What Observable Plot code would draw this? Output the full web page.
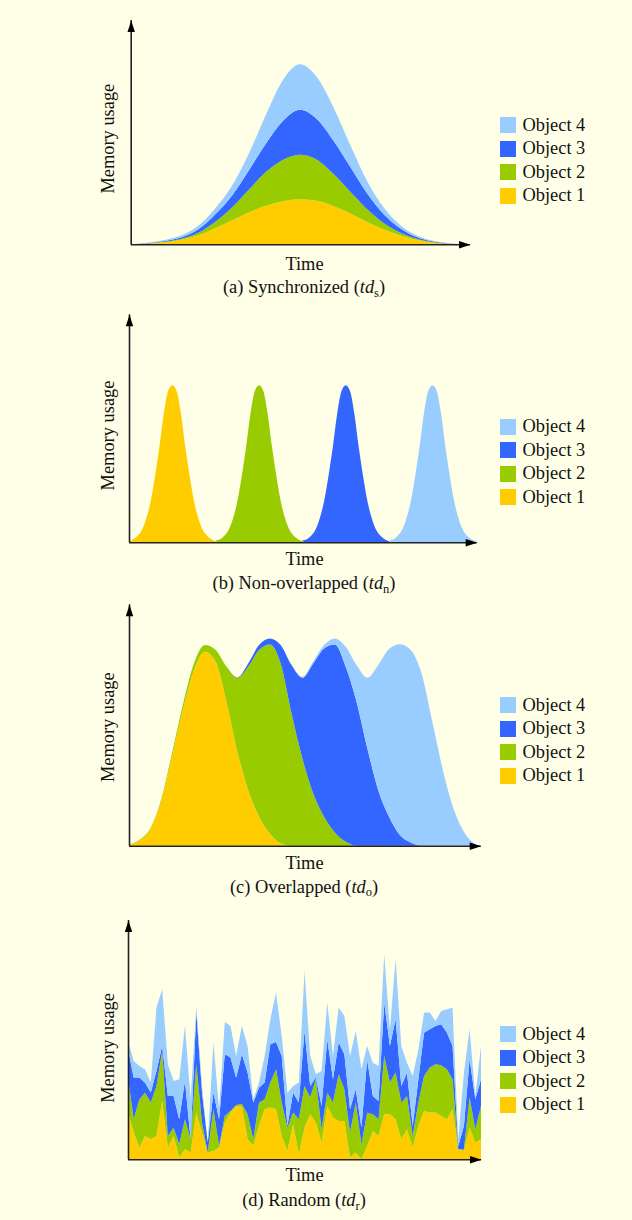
<!DOCTYPE html>
<html>
<head>
<meta charset="utf-8">
<script src="https://cdn.jsdelivr.net/npm/d3@7"></script>
<script src="https://cdn.jsdelivr.net/npm/@observablehq/plot@0.6"></script>
<style>
html, body { margin: 0; padding: 0; background: #FFFEE6; }
#page { position: relative; width: 632px; height: 1220px; background: #FFFEE6; overflow: hidden; }
.panel { position: absolute; left: 0; }
.lg { position: absolute; left: 500px; width: 130px; }
.lg svg { margin-right: 6.5px !important; }
</style>
</head>
<body>
<div id="page"></div>
<script>
const serif = "'Liberation Serif', 'Times New Roman', serif";
const ink = "#111";

const objects = ["Object 1", "Object 2", "Object 3", "Object 4"];
const objectColors = ["#ffcc00", "#99cc00", "#3366ff", "#99ccff"];
const legendObjects = ["Object 4", "Object 3", "Object 2", "Object 1"];
const legendColors = ["#99ccff", "#3366ff", "#99cc00", "#ffcc00"];

const captions = ["(a) Synchronized", "(b) Non-overlapped", "(c) Overlapped", "(d) Random"];
const captionSubs = ["s", "n", "o", "r"];
const xLabel = "Time";
const yLabel = "Memory usage";

// (a) Synchronized: time steps 0..20
const timeA = d3.range(0, 21);
const syncObj1 = [0, 0.7, 2, 4.5, 9, 16, 24, 32, 38.5, 43, 45, 43.5, 38, 30.5, 22, 14.5, 8.5, 4, 1.5, 0.3, 0];
const syncObj2 = [0, 0.2, 0.5, 1, 2.5, 6.5, 13, 23, 34, 41.5, 44.5, 41, 32, 21.5, 12.5, 6, 2.5, 1, 0.3, 0.1, 0];
const syncObj3 = [0, 0.3, 0.7, 1.5, 3.5, 7.5, 12, 19.5, 28.5, 39, 45, 40.5, 33, 24.5, 15.5, 8.5, 4, 1.5, 0.7, 0.2, 0];
const syncObj4 = [0, 0.3, 1, 2, 3.5, 6, 10, 17, 29, 41, 45.5, 42, 33, 21.5, 12, 6.5, 3, 1.5, 0.5, 0.2, 0];

// (b) Non-overlapped: each object's pulse, 21 steps from its start time
const pulseStarts = [0, 20, 40, 60];
const nonObj1 = [1, 3, 6.5, 12.5, 24, 41, 66, 95, 128, 151, 157, 151, 128, 95, 66, 41, 24, 12.5, 6.5, 3, 1];
const nonObj2 = [1, 3, 6.5, 12.5, 24, 41, 66, 95, 128, 151, 157, 151, 128, 95, 66, 41, 24, 12.5, 6.5, 3, 1];
const nonObj3 = [1, 3, 6.5, 12.5, 24, 41, 66, 95, 128, 151, 157, 151, 128, 95, 66, 41, 24, 12.5, 6.5, 3, 1];
const nonObj4 = [1, 3, 6.5, 12.5, 24, 41, 66, 95, 128, 151, 157, 151, 128, 95, 66, 41, 24, 12.5, 6.5, 3, 1];

// (c) Overlapped: time steps 0..32
const timeC = d3.range(0, 33);
const ovObj1 = [1, 5.7, 17.3, 45.7, 90.7, 137.3, 175.7, 194, 184, 144, 94, 55.7, 29, 12.3, 2.3, 0, 0, 0, 0, 0, 0, 0, 0, 0, 0, 0, 0, 0, 0, 0, 0, 0, 0];
const ovObj2 = [0.3, 0.6, 0.7, 1.7, 3.3, 5, 6.7, 6.7, 11.7, 35, 74, 123.3, 166.7, 189, 180, 132.3, 87.3, 52.3, 29, 13.3, 4, 0, 0, 0, 0, 0, 0, 0, 0, 0, 0, 0, 0];
const ovObj3 = [0, 0, 0, 0, 0, 0, 0, 0.1, 0.1, 0.2, 0.3, 3.3, 5, 6, 18.3, 48.3, 80.7, 130, 168.3, 188, 175, 144, 97.3, 55.7, 29, 10.7, 3.3, 0, 0, 0, 0, 0, 0];
const ovObj4 = [0, 0, 0, 0, 0, 0, 0, 0, 0, 0, 0, 0, 0, 0, 0, 0.5, 1, 2, 3.3, 6, 20, 36.7, 70.7, 125, 167.7, 190.7, 192.3, 172.3, 124, 74, 35.7, 12.3, 1.3];

// (d) Random: time steps 0..62
const timeD = d3.range(0, 63);
const rndObj1 = [46.7, 26.7, 11.7, 23.3, 20, 23.3, 58.3, 11.7, 23.3, 1.7,
  10, 6.7, 46.7, 26.7, 6.7, 8.3, 11.7, 36.7, 46.7, 53.3,
  53.3, 20, 13.3, 33.3, 50, 51.7, 50, 23.3, 8.3, 35,
  5, 31.7, 45, 36.7, 16.7, 53.3, 41.7, 38.3, 38.3, 1.7,
  6.7, 0, 13.3, 28.3, 23.3, 45, 45, 40, 20, 30,
  11.7, 33.3, 48.3, 46.7, 46.7, 43.3, 40, 50, 10, 8.3,
  31.7, 16.7, 20];
const rndObj2 = [35, 13.3, 48.3, 43.3, 36.7, 50, 50, 11.7, 8.3, 13.3,
  30, 13.3, 48.3, 10, 0, 41.7, 1.7, 6.7, 1.7, 1,
  2, 25, 6.7, 23.3, 10, 25, 40, 33.3, 23.3, 11.7,
  35, 41.7, 16.7, 43.3, 13.3, 13.3, 15, 46.7, 31.7, 25,
  50, 15, 33.3, 16.7, 16.7, 58.3, 31.7, 46.7, 36.7, 33.3,
  11.7, 23.3, 35, 45, 48.3, 50.7, 50, 30, 0, 1.7,
  30, 13.3, 33.3];
const rndObj3 = [28.3, 41.7, 21.7, 10, 10, 15, 5, 40, 31.7, 25,
  38.3, 0, 51.7, 30, 10, 16.7, 26.7, 61.7, 53.3, 27.3,
  49.7, 41.7, 36.7, 15, 16.7, 38.3, 27.3, 46.7, 1.7, 20,
  16.7, 55, 11.7, 1.7, 23.3, 53.3, 23.3, 31.7, 35, 23.3,
  13.3, 16.7, 53.3, 18.3, 18.3, 53.3, 36.7, 53.3, 16.7, 23.3,
  10, 23.3, 43.3, 38.3, 38.3, 41, 36.7, 33.3, 3.3, 23.3,
  38.3, 30, 26.7];
const rndObj4 = [8.3, 16.7, 11.7, 13.3, 10, 63.3, 56.7, 31.7, 15, 40,
  55, 40, 6.7, 6.7, 0, 50, 10, 32.3, 31.7, 21.7,
  28.3, 26.7, 3.3, 5, 26.7, 25, 49.3, 20, 33.3, 6.7,
  20, 60, 30, 3.3, 35, 36.7, 23.3, 35, 38.3, 53.3,
  58.3, 58.3, 13.3, 33.3, 35, 48.3, 16.7, 60, 40, 10,
  50, 30, 20, 16.7, 5, 13.3, 23.3, 38.3, 6.7, 53.3,
  30, 3.3, 33.3];

function rowsFrom(timesPerObject, series) {
  const rows = [];
  series.forEach((vals, k) => vals.forEach((v, i) => rows.push({t: timesPerObject[k][i], v, obj: objects[k]})));
  return rows;
}

const rowsA = rowsFrom([timeA, timeA, timeA, timeA], [syncObj1, syncObj2, syncObj3, syncObj4]);
const rowsB = rowsFrom(pulseStarts.map(s => nonObj1.map((_, i) => s + i)), [nonObj1, nonObj2, nonObj3, nonObj4]);
const rowsC = rowsFrom([timeC, timeC, timeC, timeC], [ovObj1, ovObj2, ovObj3, ovObj4]);
const rowsD = rowsFrom([timeD, timeD, timeD, timeD], [rndObj1, rndObj2, rndObj3, rndObj4]);

// Filled arrowhead pointing up, tip at the origin
const arrowHead = {
  draw(ctx) {
    ctx.moveTo(0, 0);
    ctx.lineTo(3.7, 11.5);
    ctx.lineTo(-3.7, 11.5);
    ctx.closePath();
  }
};

const page = document.getElementById("page");

function panel(cfg, idx) {
  const {top, height, mt, mb, ml, mr, xmax, ymax, rows, curve, timeDy, capDy, memDy, legendCenter} = cfg;
  const frameMid = (ml + (632 - mr)) / 2;
  const svg = Plot.plot({
    width: 632,
    height,
    marginTop: mt,
    marginBottom: mb,
    marginLeft: ml,
    marginRight: mr,
    style: {background: "transparent", color: ink, fontFamily: serif, overflow: "visible"},
    x: {domain: [0, xmax], axis: null},
    y: {domain: [0, ymax], axis: null},
    color: {domain: objects, range: objectColors},
    marks: [
      Plot.areaY(rows, {x: "t", y: "v", fill: "obj", curve}),
      Plot.ruleX([0], {y1: 0, y2: ymax, stroke: "#222", strokeWidth: 1.6}),
      Plot.ruleY([0], {x1: 0, x2: xmax, stroke: "#222", strokeWidth: 1.6}),
      Plot.dot([{x: 0, y: ymax}], {x: "x", y: "y", symbol: arrowHead, fill: "#000"}),
      Plot.dot([{x: xmax, y: 0}], {x: "x", y: "y", symbol: arrowHead, fill: "#000", rotate: 90}),
      Plot.text([xLabel], {frameAnchor: "bottom", dx: 304 - frameMid, dy: timeDy, lineAnchor: "bottom",
        fontSize: 18.4, fontFamily: serif, fill: ink}),
      Plot.text([yLabel], {frameAnchor: "left", dx: 107.5 - ml, dy: memDy, rotate: -90, textAnchor: "middle",
        lineAnchor: "middle", fontSize: 18.4, fontFamily: serif, fill: ink})
    ]
  });
  // caption with italic "td" and a subscript
  const cap = d3.select(svg).append("text")
    .attr("x", 304)
    .attr("y", height - mb + capDy)
    .attr("text-anchor", "middle")
    .attr("font-family", serif)
    .attr("font-size", 18.4)
    .attr("fill", ink);
  cap.append("tspan").text(captions[idx] + " (");
  cap.append("tspan").attr("font-style", "italic").text("td");
  cap.append("tspan").attr("font-size", 12.5).attr("dy", 3.5).text(captionSubs[idx]);
  cap.append("tspan").attr("dy", -3.5).text(")");

  const wrap = document.createElement("div");
  wrap.className = "panel";
  wrap.style.top = top + "px";
  wrap.appendChild(svg);
  page.appendChild(wrap);

  const legend = Plot.legend({
    color: {type: "ordinal", domain: legendObjects, range: legendColors},
    legend: "swatches",
    columns: 1,
    swatchSize: 16,
    style: {fontFamily: serif, fontSize: "18.4px", lineHeight: "22.5px", color: ink, background: "transparent", margin: "0"}
  });
  const lw = document.createElement("div");
  lw.className = "lg";
  lw.style.top = (legendCenter - 11.25) + "px";
  lw.appendChild(legend);
  page.appendChild(lw);
}

const panels = [
  {top: 0, height: 305, mt: 20, mb: 60.7, ml: 130.7, mr: 162, xmax: 20.04, ymax: 224.3, rows: rowsA,
   curve: "monotone-x", timeDy: 25, capDy: 49, memDy: 6, legendCenter: 125},
  {top: 305, height: 295, mt: 9.3, mb: 57.7, ml: 129, mr: 155.3, xmax: 80.2, ymax: 228, rows: rowsB,
   curve: "monotone-x", timeDy: 21.7, capDy: 46.7, memDy: 6.7, legendCenter: 426.5},
  {top: 600, height: 310, mt: 4.3, mb: 64.3, ml: 129, mr: 151.3, xmax: 32.46, ymax: 241.4, rows: rowsC,
   curve: "monotone-x", timeDy: 22.6, capDy: 47, memDy: 1.7, legendCenter: 705},
  {top: 910, height: 310, mt: 10, mb: 60.7, ml: 128, mr: 151, xmax: 62, ymax: 239.3, rows: rowsD,
   curve: "linear", timeDy: 21.4, capDy: 46.7, memDy: 7.8, legendCenter: 1034}
];

panels.forEach(panel);
</script>
</body>
</html>
